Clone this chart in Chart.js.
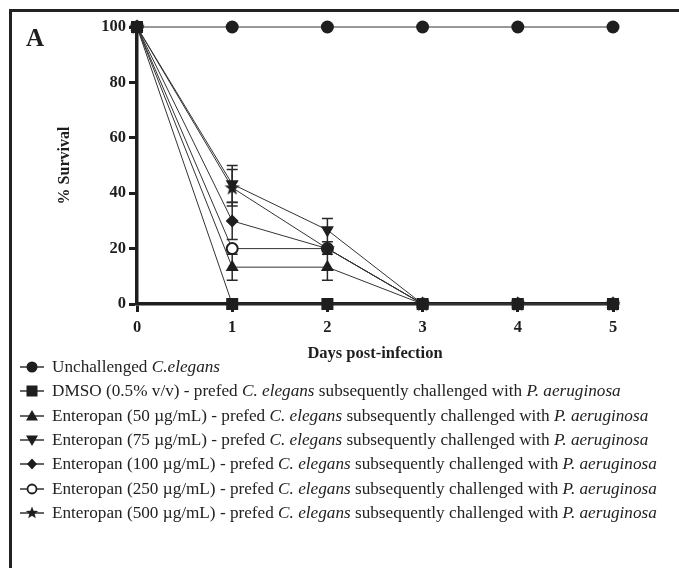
<!DOCTYPE html>
<html><head><meta charset="utf-8">
<script src="https://cdn.jsdelivr.net/npm/chart.js@4.4.1/dist/chart.umd.min.js"></script>
<style>
html,body{margin:0;padding:0;background:#fff;}
#wrap{position:relative;width:679px;height:568px;overflow:hidden;background:#fff;}
#frame{position:absolute;left:9px;top:9px;width:720px;height:620px;border-left:3px solid #222;border-top:3px solid #222;}
#c{position:absolute;left:0;top:0;}
#panel{position:absolute;left:26px;top:23px;font:bold 25px "Liberation Serif",serif;color:#1e1e1e;line-height:30px;}
.row{position:absolute;left:18px;height:24px;display:flex;align-items:center;font:17.2px "Liberation Serif",serif;color:#222;white-space:nowrap;}
.row canvas{margin-right:6px;}
</style></head>
<body>
<div id="wrap">
<div id="frame"></div>
<canvas id="c" width="679" height="568"></canvas>
<div id="panel">A</div>
<div id="legend"></div>
</div>
<script>
// ---- data ----
const days = [0, 1, 2, 3, 4, 5];
const unchallenged = [100, 100, 100, 100, 100, 100];
const dmso   = [100, 0, 0, 0, 0, 0];
const ent50  = [100, 13.3, 13.3, 0, 0, 0];
const ent75  = [100, 43.3, 26.7, 0, 0, 0];
const ent100 = [100, 30, 20, 0, 0, 0];
const ent250 = [100, 20, 20, 0, 0, 0];
const ent500 = [100, 42, 20, 0, 0, 0];
const errUnch = [0, 0, 0, 0, 0, 0];
const errDmso = [0, 0, 0, 0, 0, 0];
const err50  = [0, 4.7, 4.7, 0, 0, 0];
const err75  = [0, 6.7, 4.2, 0, 0, 0];
const err100 = [0, 6.7, 0, 0, 0, 0];
const err250 = [0, 0, 0, 0, 0, 0];
const err500 = [0, 6.6, 0, 0, 0, 0];
const yTicks = [0, 20, 40, 60, 80, 100];
const xTitle = 'Days post-infection';
const yTitle = '% Survival';
const seriesNames = [
  'Unchallenged <i>C.elegans</i>',
  'DMSO (0.5% v/v) - prefed <i>C. elegans</i> subsequently challenged with <i>P. aeruginosa</i>',
  'Enteropan (50 \u00b5g/mL) - prefed <i>C. elegans</i> subsequently challenged with <i>P. aeruginosa</i>',
  'Enteropan (75 \u00b5g/mL) - prefed <i>C. elegans</i> subsequently challenged with <i>P. aeruginosa</i>',
  'Enteropan (100 \u00b5g/mL) - prefed <i>C. elegans</i> subsequently challenged with <i>P. aeruginosa</i>',
  'Enteropan (250 \u00b5g/mL) - prefed <i>C. elegans</i> subsequently challenged with <i>P. aeruginosa</i>',
  'Enteropan (500 \u00b5g/mL) - prefed <i>C. elegans</i> subsequently challenged with <i>P. aeruginosa</i>'
];
// ---- end data ----

const INK = '#1e1e1e';
const LINE = '#333333';

function starPath(ctx, cx, cy, R, r) {
  ctx.beginPath();
  for (let k = 0; k < 10; k++) {
    const rad = -Math.PI / 2 + k * Math.PI / 5;
    const rr = k % 2 === 0 ? R : r;
    const px = cx + Math.cos(rad) * rr, py = cy + Math.sin(rad) * rr;
    k === 0 ? ctx.moveTo(px, py) : ctx.lineTo(px, py);
  }
  ctx.closePath();
}
const starImg = document.createElement('canvas');
starImg.width = 17; starImg.height = 17;
(function () { const g = starImg.getContext('2d'); g.fillStyle = INK; starPath(g, 8.5, 9, 8, 3.3); g.fill(); })();

const styles = [
  {pointStyle: 'circle', pointRadius: 6.5, bg: INK, bw: 0},
  {pointStyle: 'rect', pointRadius: 8.5, bg: INK, bw: 0},
  {pointStyle: 'triangle', pointRadius: 7.5, bg: INK, bw: 0},
  {pointStyle: 'triangle', pointRadius: 7.5, bg: INK, bw: 0, rotation: 180},
  {pointStyle: 'rectRot', pointRadius: 6.5, bg: INK, bw: 0},
  {pointStyle: 'circle', pointRadius: 5.5, bg: '#fff', bw: 2},
  {pointStyle: starImg, pointRadius: 8, bg: INK, bw: 0}
];
const seriesVals = [unchallenged, dmso, ent50, ent75, ent100, ent250, ent500];
const seriesErrs = [errUnch, errDmso, err50, err75, err100, err250, err500];

const datasets = seriesVals.map((vals, i) => ({
  label: seriesNames[i].replace(/<[^>]+>/g, ''),
  data: days.map((d, j) => ({x: d, y: vals[j]})),
  errors: seriesErrs[i],
  borderColor: LINE,
  borderWidth: 1,
  backgroundColor: styles[i].bg,
  pointBackgroundColor: styles[i].bg,
  pointBorderColor: INK,
  pointBorderWidth: styles[i].bw,
  pointStyle: styles[i].pointStyle,
  pointRadius: styles[i].pointRadius,
  pointRotation: styles[i].rotation || 0,
  tension: 0,
  clip: false,
  fill: false
}));

const errorBars = {
  id: 'errorBars',
  beforeDatasetsDraw(chart) {
    const {ctx, scales: {x, y}} = chart;
    ctx.save();
    ctx.strokeStyle = '#2a2a2a';
    ctx.lineWidth = 1.5;
    chart.data.datasets.forEach(ds => {
      ds.data.forEach((p, j) => {
        const e = ds.errors[j];
        if (!e) return;
        const px = x.getPixelForValue(p.x);
        const t = y.getPixelForValue(p.y + e), b = y.getPixelForValue(p.y - e);
        ctx.beginPath();
        ctx.moveTo(px, t); ctx.lineTo(px, b);
        ctx.moveTo(px - 5.5, t); ctx.lineTo(px + 5.5, t);
        ctx.moveTo(px - 5.5, b); ctx.lineTo(px + 5.5, b);
        ctx.stroke();
      });
    });
    ctx.restore();
  }
};

const tickFont = {family: '"Liberation Serif", serif', size: 16.5, weight: 'bold'};
new Chart(document.getElementById('c'), {
  type: 'line',
  data: {datasets},
  plugins: [errorBars],
  options: {
    responsive: false,
    animation: false,
    layout: {padding: {left: 0, right: 66, top: 27, bottom: 204}},
    plugins: {legend: {display: false}, tooltip: {enabled: false}},
    scales: {
      x: {
        type: 'linear', min: 0, max: 5,
        afterBuildTicks(s) { s.ticks = days.map(v => ({value: v})); },
        ticks: {color: INK, font: tickFont, padding: 6},
        border: {display: true, width: 3.5, color: INK},
        grid: {drawOnChartArea: false, drawTicks: true, tickLength: 8, tickWidth: 3, tickColor: INK},
        title: {display: true, text: xTitle, color: INK, font: {family: '"Liberation Serif", serif', size: 16.5, weight: 'bold'}, padding: {top: 0, bottom: 0}},
        afterFit(s) { s.height = 60; }
      },
      y: {
        type: 'linear', min: 0, max: 100,
        afterBuildTicks(s) { s.ticks = yTicks.map(v => ({value: v})); },
        ticks: {color: INK, font: tickFont, padding: 3},
        border: {display: true, width: 3.5, color: INK},
        grid: {drawOnChartArea: false, drawTicks: true, tickLength: 8, tickWidth: 3, tickColor: INK},
        title: {display: true, text: yTitle, color: INK, font: {family: '"Liberation Serif", serif', size: 16, weight: 'bold'}, padding: {top: 55, bottom: 0}},
        afterFit(s) { s.width = 137; }
      }
    }
  }
});

// HTML legend with drawn icons
function drawIcon(cv, i) {
  const g = cv.getContext('2d');
  const cy = cv.height / 2, cx = 14;
  g.strokeStyle = LINE; g.lineWidth = 1.5;
  g.beginPath(); g.moveTo(2, cy); g.lineTo(26, cy); g.stroke();
  g.fillStyle = INK; g.strokeStyle = INK;
  g.beginPath();
  if (i === 0) { g.arc(cx, cy, 5.5, 0, Math.PI * 2); g.fill(); }
  else if (i === 1) { g.fillRect(cx - 5.5, cy - 5.5, 11, 11); }
  else if (i === 2) { g.moveTo(cx, cy - 6); g.lineTo(cx + 6, cy + 4.5); g.lineTo(cx - 6, cy + 4.5); g.closePath(); g.fill(); }
  else if (i === 3) { g.moveTo(cx, cy + 6); g.lineTo(cx + 6, cy - 4.5); g.lineTo(cx - 6, cy - 4.5); g.closePath(); g.fill(); }
  else if (i === 4) { g.moveTo(cx, cy - 5.5); g.lineTo(cx + 5, cy); g.lineTo(cx, cy + 5.5); g.lineTo(cx - 5, cy); g.closePath(); g.fill(); }
  else if (i === 5) { g.arc(cx, cy, 4.5, 0, Math.PI * 2); g.fillStyle = '#fff'; g.fill(); g.lineWidth = 1.8; g.stroke(); }
  else { starPath(g, cx, cy, 6.5, 2.7); g.fill(); }
}
const legend = document.getElementById('legend');
const rowCenters0 = 367, rowStep = 24.3;
seriesNames.forEach((name, i) => {
  const row = document.createElement('div');
  row.className = 'row';
  row.style.top = (rowCenters0 + i * rowStep - 12) + 'px';
  const cv = document.createElement('canvas');
  cv.width = 28; cv.height = 16;
  drawIcon(cv, i);
  const sp = document.createElement('span');
  sp.innerHTML = name;
  row.appendChild(cv); row.appendChild(sp);
  legend.appendChild(row);
});
</script>
</body></html>
